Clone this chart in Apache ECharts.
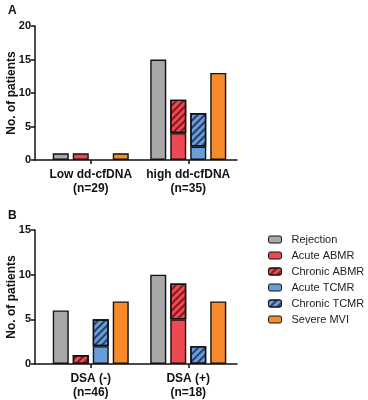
<!DOCTYPE html>
<html><head><meta charset="utf-8">
<script src="https://cdn.jsdelivr.net/npm/echarts@6/dist/echarts.min.js"></script>
<style>html,body{margin:0;padding:0;background:#fff}#c{width:368px;height:400px}</style>
</head><body><div id="c"></div>
<script>
// ---- data ----
const seriesNames = ['Rejection','Acute ABMR','Chronic ABMR','Acute TCMR','Chronic TCMR','Severe MVI'];
const catsA = ['Low dd-cfDNA\n(n=29)','high dd-cfDNA\n(n=35)'];
const catsB = ['DSA (-)\n(n=46)','DSA (+)\n(n=18)'];
const rejectionA   = [1, 15];
const acuteAbmrA   = [1, 4];
const chronicAbmrA = [0, 5];
const acuteTcmrA   = [0, 2];
const chronicTcmrA = [0, 5];
const severeMviA   = [1, 13];
const rejectionB   = [6, 10];
const acuteAbmrB   = [0, 5];
const chronicAbmrB = [1, 4];
const acuteTcmrB   = [2, 0];
const chronicTcmrB = [3, 2];
const severeMviB   = [7, 7];
const ticksA = [0,5,10,15,20];
const ticksB = [0,5,10,15];

const colors = {gray:'#a8a8ab', red:'#ec4a50', blue:'#6a9dd8', orange:'#f68b2b'};
const font = 'Liberation Sans, Arial, sans-serif';
const hatch = c => ({symbol:'rect', symbolSize:1, dashArrayX:[1,0], dashArrayY:[1.1,2.6], rotation:-Math.PI/4, color:c});

const chart = echarts.init(document.getElementById('c'), null, {renderer:'canvas'});

function nz(a){ return a.map(v => v === 0 ? null : v); }

function mkSeries(idx, d){
  const bs = {borderColor:'#111', borderWidth:1.4};
  const common = {type:'bar', xAxisIndex:idx, yAxisIndex:idx, barWidth:16, barGap:'25%'};
  return [
    Object.assign({name:seriesNames[0], stack:'r'+idx, data:nz(d[0]), itemStyle:Object.assign({color:colors.gray},bs)}, common),
    Object.assign({name:seriesNames[1], stack:'abmr'+idx, data:nz(d[1]), itemStyle:Object.assign({color:colors.red},bs)}, common),
    Object.assign({name:seriesNames[2], stack:'abmr'+idx, data:nz(d[2]), itemStyle:Object.assign({color:colors.red, decal:hatch('rgba(90,0,10,0.7)')},bs)}, common),
    Object.assign({name:seriesNames[3], stack:'tcmr'+idx, data:nz(d[3]), itemStyle:Object.assign({color:colors.blue},bs)}, common),
    Object.assign({name:seriesNames[4], stack:'tcmr'+idx, data:nz(d[4]), itemStyle:Object.assign({color:colors.blue, decal:hatch('rgba(10,20,60,0.7)')},bs)}, common),
    Object.assign({name:seriesNames[5], stack:'m'+idx, data:nz(d[5]), itemStyle:Object.assign({color:colors.orange},bs)}, common)
  ];
}

const axisLineStyle = {color:'#111', width:1.5};
function xCat(idx, cats){
  return {type:'category', gridIndex:idx, data:cats, axisLine:{show:false},
    axisTick:{show:true, alignWithLabel:true, length:4, lineStyle:axisLineStyle, interval:0},
    axisLabel:{fontFamily:font, fontWeight:'bold', fontSize:12, color:'#111', lineHeight:14, margin:8, interval:0}};
}
function yVal(idx, max){
  return {type:'value', gridIndex:idx, min:0, max:max, interval:5, offset:7,
    name:'No. of patients', nameLocation:'middle', nameGap:17, nameMoveOverlap:false,
    nameTextStyle:{fontFamily:font, fontWeight:'bold', fontSize:12, color:'#111'},
    axisLine:{show:true, lineStyle:axisLineStyle}, axisTick:{show:true, length:4, lineStyle:axisLineStyle},
    splitLine:{show:false},
    axisLabel:{fontFamily:font, fontWeight:'bold', fontSize:11, color:'#111', margin:4}};
}
function xLine(idx){
  return {type:'value', gridIndex:idx, min:0, max:1, axisLine:{show:true, onZero:false, lineStyle:axisLineStyle},
    axisTick:{show:false}, axisLabel:{show:false}, splitLine:{show:false}};
}
function yHidden(idx){
  return {type:'value', gridIndex:idx, show:false, min:0, max:1};
}
const gridCommon = {containLabel:false, outerBoundsMode:'none'};

const option = {
  animation:false,
  backgroundColor:'#fff',
  textStyle:{fontFamily:font},
  title:[
    {text:'A', left:3, top:0, textStyle:{fontFamily:font, fontWeight:'bold', fontSize:12, color:'#111'}},
    {text:'B', left:3, top:205, textStyle:{fontFamily:font, fontWeight:'bold', fontSize:12, color:'#111'}}
  ],
  grid:[
    Object.assign({left:42, right:131, top:26, height:134}, gridCommon),
    Object.assign({left:42, right:131, top:230, height:134}, gridCommon),
    Object.assign({left:35, right:131, top:26, height:134}, gridCommon),
    Object.assign({left:35, right:131, top:230, height:134}, gridCommon)
  ],
  legend:{orient:'vertical', left:263, top:229, itemWidth:13, itemHeight:7, itemGap:5,
    data:seriesNames,
    textStyle:{fontFamily:font, fontSize:11, color:'#222', padding:[0,0,0,5]},
    itemStyle:{borderColor:'#111', borderWidth:1}},
  xAxis:[xCat(0,catsA), xCat(1,catsB), xLine(2), xLine(3)],
  yAxis:[yVal(0,20), yVal(1,15), yHidden(2), yHidden(3)],
  series:[
    ...mkSeries(0,[rejectionA,acuteAbmrA,chronicAbmrA,acuteTcmrA,chronicTcmrA,severeMviA]),
    ...mkSeries(1,[rejectionB,acuteAbmrB,chronicAbmrB,acuteTcmrB,chronicTcmrB,severeMviB])
  ]
};
chart.setOption(option);
</script></body></html>
